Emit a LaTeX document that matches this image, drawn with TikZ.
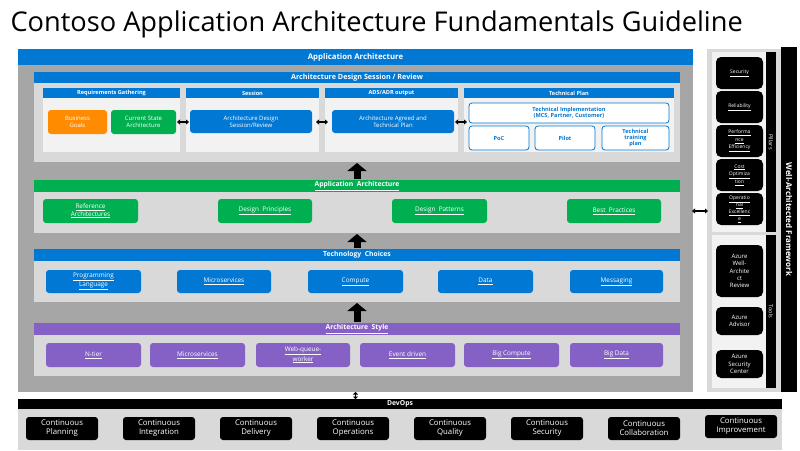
\documentclass[tikz,border=0pt]{standalone}
\usepackage{fontspec}
\setmainfont{Open Sans}
\usetikzlibrary{arrows.meta}
\definecolor{msblue}{HTML}{0078D4}
\definecolor{msgreen}{HTML}{00B050}
\definecolor{msorange}{HTML}{FF8C00}
\definecolor{mspurple}{HTML}{8661C5}
\definecolor{framegray}{HTML}{A6A6A6}
\definecolor{lightgray}{HTML}{D9D9D9}
\definecolor{panelgray}{HTML}{F2F2F2}
\newcommand\bx[7]{\node[#2,anchor=north west,minimum width={(#5-#3)*1pt},minimum height={(#6-#4)*1pt}] (#1) at (#3,#4) {#7};}
\newcommand\ul[1]{\underline{#1}}
\begin{document}
\begin{tikzpicture}[x=1pt,y=-1pt,
  every node/.style={inner sep=0.5pt,outer sep=0pt,align=center,font=\fontsize{5.5}{6.3}\selectfont},
  bar/.style={text=white,font=\bfseries\fontsize{6.8}{7.5}\selectfont},
  bigbar/.style={fill=msblue,text=white,font=\bfseries\fontsize{7.8}{8.5}\selectfont},
  colhdr/.style={fill=msblue,text=white,font=\bfseries\fontsize{5.6}{6.5}\selectfont},
  area/.style={fill=lightgray},
  panel/.style={fill=panelgray},
  rbox/.style={rounded corners=3pt,text=white,font=\fontsize{6.4}{7.6}\selectfont},
  tpbox/.style={fill=white,draw=msblue,line width=0.8pt,rounded corners=3pt,text=msblue,font=\bfseries\fontsize{5.6}{6.4}\selectfont},
  pbox/.style={fill=black,rounded corners=5pt,text=white,font=\fontsize{5}{7.6}\selectfont},
  tbox/.style={fill=black,rounded corners=5pt,text=white,font=\fontsize{6}{7.3}\selectfont},
  dbox/.style={fill=black,rounded corners=3pt,text=white,font=\fontsize{7.8}{9}\selectfont},
  band/.style={fill=black,text=white},
  uparrow/.style={line width=7pt,-{Triangle[width=19pt,length=8pt]},shorten <=1pt,shorten >=1pt},
  dbl/.style={line width=1.6pt,{Triangle[width=5pt,length=3pt]}-{Triangle[width=5pt,length=3pt]},shorten <=-3pt,shorten >=-3pt}
]
\useasboundingbox[fill=white] (0,0) rectangle (800,450);

% title
\node[anchor=west,font=\fontsize{27.2}{32}\selectfont] (title) at (10,24) {Contoso Application Architecture Fundamentals Guideline};

% main frame
\bx{mainhdr}{bigbar}{18}{49}{693}{65}{Application Architecture}
\bx{mainbody}{fill=framegray}{18}{65}{693}{392}{}

% ADS section
\bx{adshdr}{bigbar,font=\bfseries\fontsize{7.2}{8}\selectfont}{34}{72}{680}{83}{Architecture Design Session / Review}
\bx{adsbody}{area}{34}{83}{680}{162}{}
\bx{reqhdr}{colhdr}{43}{88}{180}{98}{Requirements Gathering}
\bx{reqcol}{panel}{43}{98}{180}{152}{}
\bx{seshdr}{colhdr}{186}{88}{319}{98}{Session}
\bx{sescol}{panel}{186}{98}{319}{152}{}
\bx{outhdr}{colhdr}{325}{88}{458}{98}{ADS/ADR output}
\bx{outcol}{panel}{325}{98}{458}{152}{}
\bx{tphdr}{colhdr}{464}{88}{674}{98}{Technical Plan}
\bx{tpcol}{panel}{464}{98}{674}{152}{}

\bx{bizgoals}{rbox,fill=msorange,font=\fontsize{6}{7.5}\selectfont}{48}{110}{107}{134}{Business\\Goals}
\bx{curstate}{rbox,fill=msgreen,font=\fontsize{6}{7.5}\selectfont}{111}{110}{176}{134}{Current State\\Architecture}
\bx{adsrev}{rbox,fill=msblue,font=\fontsize{6}{7.5}\selectfont}{190}{110}{312}{133}{Architecture Design\\Session/Review}
\bx{agreed}{rbox,fill=msblue,font=\fontsize{6}{7.5}\selectfont}{332}{110}{454}{133}{Architecture Agreed and\\Technical Plan}
\bx{techimpl}{tpbox}{469}{103}{669}{123}{Technical Implementation\\(MCS, Partner, Customer)}
\bx{poc}{tpbox}{469}{126}{529}{150}{PoC}
\bx{pilot}{tpbox}{535}{126}{595}{150}{Pilot}
\bx{training}{tpbox}{602}{126}{669}{150}{Technical\\training\\plan}

\draw[dbl] (reqcol.east |- curstate.center) -- (sescol.west |- curstate.center);
\draw[dbl] (sescol.east |- curstate.center) -- (outcol.west |- curstate.center);
\draw[dbl] (outcol.east |- curstate.center) -- (tpcol.west |- curstate.center);

% Application Architecture section
\bx{aahdr}{bar,fill=msgreen}{34}{180}{680}{192}{\ul{Application\ \ Architecture}}
\bx{aabody}{area}{34}{192}{680}{233}{}
\bx{aa1}{rbox,fill=msgreen}{43}{199}{138}{223}{\ul{Reference}\\\ul{Architectures}}
\bx{aa2}{rbox,fill=msgreen}{218}{199}{312}{223}{\ul{Design\ \ Principles}}
\bx{aa3}{rbox,fill=msgreen}{392}{199}{487}{223}{\ul{Design\ \ Patterns}}
\bx{aa4}{rbox,fill=msgreen}{567}{199}{661}{223}{\ul{Best\ \ Practices}}
\draw[uparrow] (aahdr.north) -- (adsbody.south);

% Technology Choices
\bx{tchdr}{bar,fill=msblue}{34}{249}{680}{261}{Technology\ \ Choices}
\bx{tcbody}{area}{34}{261}{680}{302}{}
\bx{tc1}{rbox,fill=msblue}{46}{270}{141}{293}{\ul{Programming}\\\ul{Language}}
\bx{tc2}{rbox,fill=msblue}{177}{270}{271}{293}{\ul{Microservices}}
\bx{tc3}{rbox,fill=msblue}{308}{270}{403}{293}{\ul{Compute}}
\bx{tc4}{rbox,fill=msblue}{438}{270}{533}{293}{\ul{Data}}
\bx{tc5}{rbox,fill=msblue}{570}{270}{663}{293}{\ul{Messaging}}
\draw[uparrow] (tchdr.north) -- (aabody.south);

% Architecture Style
\bx{ashdr}{bar,fill=mspurple}{34}{323}{680}{335}{\ul{Architecture\ \ Style}}
\bx{asbody}{area}{34}{335}{680}{376}{}
\bx{as1}{rbox,fill=mspurple}{46}{343}{141}{367}{\ul{N-tier}}
\bx{as2}{rbox,fill=mspurple}{150}{343}{245}{367}{\ul{Microservices}}
\bx{as3}{rbox,fill=mspurple}{256}{343}{350}{367}{\ul{Web-queue-}\\\ul{worker}}
\bx{as4}{rbox,fill=mspurple}{360}{343}{455}{367}{\ul{Event driven}}
\bx{as5}{rbox,fill=mspurple}{464}{343}{559}{367}{\ul{Big Compute}}
\bx{as6}{rbox,fill=mspurple}{570}{343}{663}{367}{\ul{Big Data}}
\draw[uparrow] (ashdr.north) -- (tcbody.south);

% Well-Architected Framework
\bx{waouter}{area}{707}{49}{781}{392}{}
\bx{waband}{band,font=\bfseries\fontsize{8}{9}\selectfont}{781}{47}{797}{392}{\rotatebox{-90}{Well-Architected Framework}}
\bx{pilpanel}{panel}{712}{52}{766}{232}{}
\bx{pilband}{band,font=\fontsize{5.5}{6}\selectfont}{766}{52}{776}{232}{\rotatebox{-90}{Pillars}}
\bx{p1}{pbox}{716}{57}{763}{89}{\ul{Security}}
\bx{p2}{pbox}{716}{91}{763}{123}{\ul{Reliability}}
\bx{p3}{pbox}{716}{125}{763}{157}{\ul{Performa}\\\ul{nce}\\\ul{Efficiency}}
\bx{p4}{pbox}{716}{159}{763}{191}{\ul{Cost}\\\ul{Optimiza}\\\ul{tion}}
\bx{p5}{pbox,font=\fontsize{5}{7}\selectfont}{716}{193}{763}{225}{\ul{Operatio}\\\ul{nal}\\\ul{Excellenc}\\\ul{e}}
\bx{toolpanel}{panel}{712}{235}{766}{388}{}
\bx{toolband}{band,font=\fontsize{5.5}{6}\selectfont}{766}{235}{776}{388}{\rotatebox{-90}{Tools}}
\bx{t1}{tbox}{716}{245}{763}{297}{Azure\\Well-\\Archite\\ct\\Review}
\bx{t2}{tbox}{716}{307}{763}{335}{Azure\\Advisor}
\bx{t3}{tbox}{716}{350}{763}{378}{Azure\\Security\\Center}
\draw[dbl,shorten <=-1pt,shorten >=-1pt] (mainbody.east |- aa4.center) -- (waouter.west |- aa4.center);

% DevOps
\bx{devhdr}{band,font=\bfseries\fontsize{6.8}{7.5}\selectfont}{18}{399}{782}{409}{DevOps}
\bx{devbody}{area}{18}{409}{782}{450}{}
\bx{d1}{dbox}{26}{417}{98}{440}{Continuous\\Planning}
\bx{d2}{dbox}{123}{417}{195}{440}{Continuous\\Integration}
\bx{d3}{dbox}{220}{417}{292}{440}{Continuous\\Delivery}
\bx{d4}{dbox}{317}{417}{389}{440}{Continuous\\Operations}
\bx{d5}{dbox}{414}{417}{486}{440}{Continuous\\Quality}
\bx{d6}{dbox}{511}{417}{583}{440}{Continuous\\Security}
\bx{d7}{dbox}{608}{417}{680}{440}{Continuous\\Collaboration}
\bx{d8}{dbox}{705}{415}{777}{438}{Continuous\\Improvement}
\draw[line width=1.6pt,{Triangle[width=5pt,length=2.5pt]}-{Triangle[width=5pt,length=2.5pt]}] (mainbody.south) -- (mainbody.south |- devhdr.north);
\end{tikzpicture}
\end{document}
